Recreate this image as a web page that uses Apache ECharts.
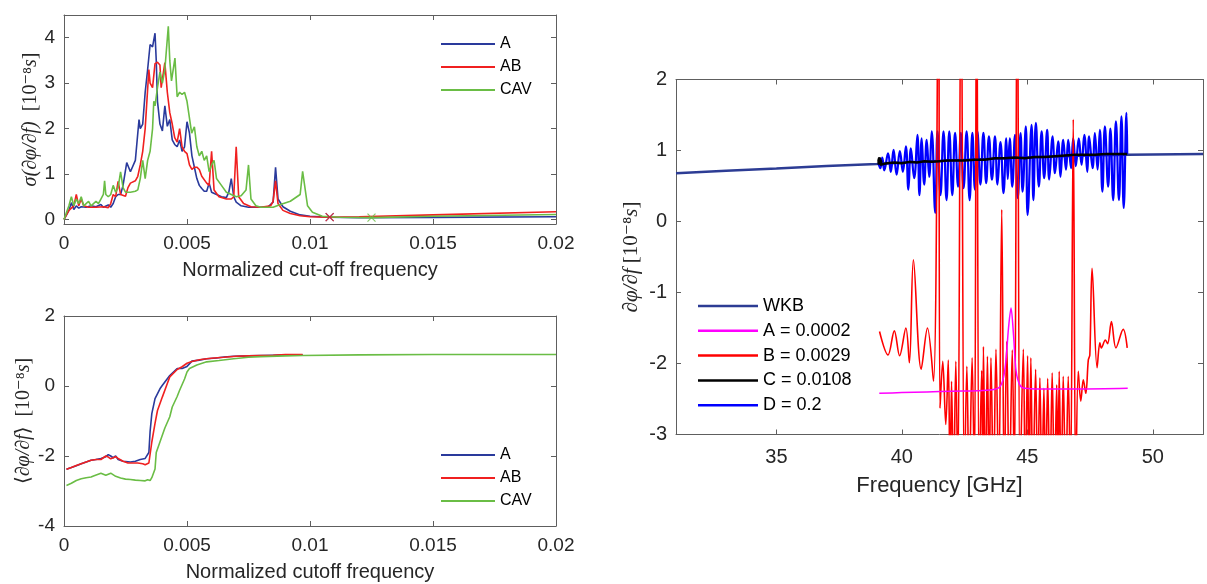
<!DOCTYPE html>
<html>
<head>
<meta charset="utf-8">
<script src="https://cdn.jsdelivr.net/npm/echarts@6/dist/echarts.min.js"></script>
<style>html,body{margin:0;padding:0;background:#fff}#c{width:1207px;height:584px}</style>
</head>
<body>
<div id="c"></div>
<script>
// ---------- tick labels ----------
const xTicksCut = [0, 0.005, 0.01, 0.015, 0.02];
const yTicksSigma = [0, 1, 2, 3, 4];
const yTicksMean = [-4, -2, 0, 2];
const xTicksFreq = [35, 40, 45, 50];
const yTicksFreq = [-3, -2, -1, 0, 1, 2];

// ---------- top-left: sigma(dphi/df) ----------
const sigA = [[0,0],[0.0002,0.2],[0.0003,0.37],[0.0004,0.22],[0.0005,0.3],[0.0006,0.25],[0.0007,0.28],[0.0009,0.27],[0.0011,0.3],[0.0013,0.28],[0.0015,0.33],[0.0016,0.27],[0.0018,0.32],[0.0019,0.27],[0.0020,0.35],[0.0021,0.5],[0.0022,0.55],[0.0023,0.55],[0.0024,0.75],[0.00255,1.25],[0.0027,1.05],[0.0029,1.3],[0.00305,2.2],[0.0031,2.0],[0.0032,2.1],[0.0033,2.8],[0.0034,3.3],[0.0035,3.85],[0.0036,3.8],[0.0037,4.1],[0.00375,3.5],[0.0038,2.6],[0.0039,2.1],[0.0040,1.95],[0.0041,2.5],[0.0042,2.05],[0.0043,2.2],[0.0044,1.75],[0.0045,1.65],[0.0046,1.6],[0.0047,1.75],[0.0048,1.5],[0.0049,1.6],[0.0050,2.15],[0.0051,1.9],[0.0052,1.4],[0.0053,1.15],[0.0054,0.9],[0.0055,0.75],[0.0056,0.68],[0.0057,0.62],[0.0058,0.62],[0.0059,0.8],[0.0060,0.6],[0.0062,0.55],[0.0064,0.5],[0.0066,0.48],[0.0067,0.6],[0.0068,0.9],[0.0069,0.5],[0.0070,0.38],[0.0072,0.3],[0.0075,0.27],[0.0080,0.27],[0.0083,0.28],[0.0085,0.38],[0.0086,1.15],[0.0087,0.45],[0.0089,0.28],[0.0092,0.18],[0.0096,0.1],[0.0100,0.07],[0.0108,0.05],[0.0120,0.04],[0.0150,0.045],[0.0200,0.06]];
const sigAB = [[0,0],[0.0002,0.2],[0.0004,0.3],[0.0005,0.55],[0.0006,0.3],[0.0007,0.45],[0.0008,0.3],[0.0010,0.27],[0.0013,0.27],[0.0016,0.28],[0.0018,0.26],[0.0019,0.35],[0.0020,0.55],[0.0021,0.5],[0.0022,0.84],[0.0023,0.55],[0.0025,0.51],[0.0026,0.7],[0.0027,0.8],[0.0029,0.85],[0.0030,0.95],[0.0031,1.2],[0.0032,1.5],[0.0033,2.0],[0.00345,3.3],[0.0035,3.0],[0.0036,2.9],[0.0037,3.43],[0.0038,3.46],[0.0039,3.4],[0.00395,2.9],[0.0041,3.45],[0.0042,2.8],[0.0043,2.35],[0.0044,2.1],[0.0045,1.8],[0.0046,1.7],[0.0047,2.0],[0.0048,1.6],[0.0049,1.5],[0.0050,1.45],[0.0051,1.2],[0.0052,1.1],[0.0053,1.15],[0.0054,1.15],[0.0055,1.1],[0.0056,0.95],[0.0058,0.8],[0.0059,0.75],[0.0060,1.5],[0.0061,0.65],[0.0063,0.5],[0.0066,0.45],[0.0068,0.45],[0.0069,0.5],[0.0070,1.6],[0.0071,0.5],[0.0073,0.35],[0.0076,0.28],[0.0080,0.27],[0.0084,0.3],[0.0085,0.4],[0.0086,0.85],[0.0087,0.35],[0.0089,0.2],[0.0092,0.13],[0.0096,0.08],[0.0100,0.06],[0.0108,0.05],[0.0120,0.06],[0.0150,0.1],[0.0200,0.17]];
const sigCAV = [[0,0],[0.0001,0.15],[0.0002,0.3],[0.0003,0.5],[0.0004,0.3],[0.0005,0.45],[0.0006,0.35],[0.0007,0.5],[0.0008,0.3],[0.0009,0.35],[0.0010,0.4],[0.0011,0.3],[0.0012,0.35],[0.0013,0.4],[0.0014,0.35],[0.0015,0.45],[0.0016,0.55],[0.00165,0.85],[0.0017,0.55],[0.0018,0.5],[0.0019,0.55],[0.0020,0.75],[0.0021,0.6],[0.0022,0.7],[0.0023,1.05],[0.0024,0.7],[0.0025,0.6],[0.0027,0.6],[0.0029,0.62],[0.0030,0.65],[0.0031,0.9],[0.0032,1.3],[0.0033,0.9],[0.0034,1.3],[0.0035,1.5],[0.0036,2.0],[0.00365,2.6],[0.0037,2.5],[0.0038,2.9],[0.0039,3.24],[0.0040,3.0],[0.0041,3.3],[0.00424,4.25],[0.0043,3.5],[0.00437,3.05],[0.00451,3.55],[0.0046,2.7],[0.0047,2.8],[0.0048,2.75],[0.0049,2.8],[0.0050,2.6],[0.00519,1.9],[0.0053,2.04],[0.0054,1.6],[0.0055,1.4],[0.0056,1.5],[0.0057,1.3],[0.0058,1.4],[0.0059,1.05],[0.0060,1.2],[0.0061,1.3],[0.0062,0.9],[0.0064,0.75],[0.0066,0.6],[0.0068,0.55],[0.0070,0.5],[0.0072,0.52],[0.0074,0.65],[0.0075,1.2],[0.0076,0.45],[0.0078,0.3],[0.0080,0.27],[0.0085,0.27],[0.0088,0.33],[0.0092,0.4],[0.0096,0.55],[0.0097,1.06],[0.0099,0.3],[0.0101,0.16],[0.0105,0.07],[0.0112,0.05],[0.0125,0.04],[0.0150,0.07],[0.0200,0.11]];
const markA = [[0.0108, 0.05]];
const markAB = [[0.0108, 0.05]];
const markCAV = [[0.0125, 0.04]];

// ---------- bottom-left: <dphi/df> ----------
const avgA = [[0.0001,-2.38],[0.0003,-2.33],[0.0005,-2.28],[0.0007,-2.22],[0.0009,-2.17],[0.0011,-2.12],[0.0013,-2.1],[0.0015,-2.07],[0.0017,-2.02],[0.0018,-1.96],[0.0019,-2.0],[0.0020,-2.05],[0.0021,-2.0],[0.0022,-2.1],[0.0024,-2.15],[0.0027,-2.17],[0.0029,-2.15],[0.0031,-2.1],[0.0033,-2.07],[0.00345,-1.9],[0.0035,-1.3],[0.00357,-0.79],[0.0037,-0.36],[0.0039,-0.08],[0.0040,0.02],[0.0042,0.21],[0.0043,0.3],[0.0046,0.5],[0.0048,0.5],[0.0050,0.56],[0.0052,0.71],[0.0055,0.74],[0.0058,0.78],[0.0062,0.8],[0.0065,0.83],[0.0069,0.85],[0.0075,0.86],[0.0080,0.87],[0.0085,0.88],[0.0090,0.89],[0.0097,0.89]];
const avgAB = [[0.0001,-2.38],[0.0003,-2.33],[0.0005,-2.27],[0.0007,-2.22],[0.0009,-2.17],[0.0011,-2.12],[0.0013,-2.1],[0.0015,-2.1],[0.0017,-2.0],[0.0018,-2.03],[0.0019,-2.08],[0.0020,-2.05],[0.0021,-2.02],[0.0022,-2.07],[0.0024,-2.15],[0.0026,-2.2],[0.0028,-2.2],[0.0030,-2.2],[0.0032,-2.22],[0.0033,-2.25],[0.00345,-2.2],[0.00357,-1.6],[0.0037,-1.07],[0.0038,-0.7],[0.0040,-0.31],[0.0042,0.07],[0.0043,0.26],[0.0046,0.47],[0.0048,0.55],[0.0050,0.65],[0.0052,0.7],[0.0055,0.75],[0.0058,0.78],[0.0061,0.8],[0.0065,0.82],[0.0070,0.85],[0.0075,0.86],[0.0080,0.87],[0.0085,0.88],[0.0090,0.9],[0.0097,0.9]];
const avgCAV = [[0.0001,-2.84],[0.0003,-2.78],[0.0005,-2.7],[0.0007,-2.65],[0.0009,-2.62],[0.0011,-2.6],[0.0012,-2.57],[0.0015,-2.49],[0.0016,-2.52],[0.0017,-2.55],[0.0019,-2.49],[0.0021,-2.58],[0.0023,-2.63],[0.0025,-2.66],[0.0027,-2.67],[0.0029,-2.69],[0.0031,-2.7],[0.0033,-2.71],[0.0034,-2.68],[0.0035,-2.7],[0.00357,-2.62],[0.0037,-2.37],[0.00375,-1.9],[0.0039,-1.6],[0.0041,-1.2],[0.0043,-0.88],[0.0044,-0.6],[0.0046,-0.3],[0.0047,-0.12],[0.0049,0.2],[0.0050,0.4],[0.0051,0.5],[0.0054,0.6],[0.0058,0.69],[0.0063,0.73],[0.0069,0.78],[0.0075,0.82],[0.0080,0.84],[0.0090,0.86],[0.0097,0.87],[0.0120,0.89],[0.0150,0.9],[0.0200,0.9]];

// ---------- right: dphi/df vs frequency ----------
const wkb = [[31,0.68],[33,0.715],[35,0.745],[37,0.78],[39,0.81],[41,0.845],[43,0.875],[45,0.9],[47,0.925],[49,0.94],[52,0.95]];
const devA = [[39.1,-2.42],[40,-2.41],[41,-2.4],[42,-2.39],[43,-2.385],[43.6,-2.37],[43.9,-2.33],[44.05,-2.2],[44.15,-1.95],[44.25,-1.5],[44.35,-1.22],[44.45,-1.6],[44.55,-2.1],[44.7,-2.3],[44.9,-2.35],[45.5,-2.36],[47,-2.36],[49,-2.35]];
const devB = [[39.11,-1.55],[39.45,-1.88],[39.7,-1.54],[39.91,-1.89],[40.16,-1.5],[40.3,-1.99],[40.46,-0.54],[40.77,-2.08],[41.02,-1.5],[41.26,-2.25],[41.46,4.0],[41.52,-2.63],[41.63,-1.97],[41.75,-2.86],[41.85,-1.95],[41.92,-3.8],[41.98,-2.25],[42.06,-3.8],[42.15,-1.97],[42.23,-3.8],[42.36,4.0],[42.49,-3.8],[42.59,-2.04],[42.68,-3.8],[42.8,-1.92],[42.89,-3.8],[42.98,4.0],[43.08,-3.8],[43.18,-2.1],[43.22,-3.8],[43.25,-1.76],[43.33,-3.8],[43.41,-1.9],[43.48,-3.8],[43.55,-1.92],[43.65,-3.8],[43.75,-1.8],[43.86,-3.8],[43.98,0.17],[44.08,-3.8],[44.18,-1.69],[44.28,-3.8],[44.4,-1.81],[44.48,-3.8],[44.6,4.0],[44.71,-3.8],[44.84,-1.8],[44.92,-3.8],[45.01,-1.89],[45.07,-3.8],[45.14,-1.92],[45.22,-3.8],[45.33,-2.08],[45.41,-3.8],[45.5,-2.2],[45.58,-3.8],[45.66,-2.35],[45.73,-3.8],[45.81,-2.21],[45.9,-3.8],[45.99,-2.13],[46.08,-3.8],[46.17,-2.3],[46.22,-3.8],[46.27,-2.11],[46.35,-3.8],[46.43,-2.18],[46.53,-3.8],[46.63,-2.18],[46.72,-3.8],[46.83,1.44],[46.93,-3.8],[47.03,-2.11],[47.13,-2.53],[47.23,-2.23],[47.33,-2.42],[47.43,-1.95],[47.49,-1.88],[47.58,-0.66],[47.78,-2.06],[47.89,-1.71],[47.95,-1.78],[48.11,-1.67],[48.2,-1.72],[48.35,-1.41],[48.53,-1.78],[48.82,-1.52],[48.98,-1.78]];
const devC = [[39.08,0.8],[39.07,0.86],[39.1,0.9],[39.15,0.89],[39.18,0.84],[39.14,0.8],[39.2,0.82],[39.4,0.82],[39.7,0.83],[40.0,0.82],[40.3,0.84],[40.6,0.83],[40.9,0.85],[41.2,0.84],[41.5,0.85],[41.8,0.86],[42.1,0.86],[42.5,0.86],[42.9,0.87],[43.3,0.87],[43.7,0.89],[44.1,0.89],[44.5,0.9],[44.9,0.89],[45.3,0.91],[45.7,0.91],[46.1,0.92],[46.5,0.93],[46.9,0.94],[47.3,0.94],[47.7,0.94],[48.1,0.95],[48.5,0.95],[48.98,0.95]];
const devD = [[39.07,0.82],[39.14,0.75],[39.22,0.9],[39.3,0.72],[39.45,0.96],[39.56,0.7],[39.67,1.01],[39.79,0.66],[39.92,0.99],[40.04,0.7],[40.16,1.06],[40.26,0.45],[40.36,1.03],[40.49,0.61],[40.62,1.22],[40.7,0.37],[40.79,1.17],[40.89,0.52],[40.99,1.15],[41.09,0.63],[41.19,1.27],[41.33,0.12],[41.42,1.27],[41.54,0.37],[41.66,1.27],[41.78,0.3],[41.89,1.27],[42.01,0.37],[42.12,1.25],[42.24,0.49],[42.35,1.25],[42.46,0.47],[42.58,1.27],[42.7,0.3],[42.81,1.25],[42.91,0.45],[43.01,1.27],[43.13,0.52],[43.25,1.25],[43.36,0.54],[43.47,1.2],[43.59,0.59],[43.71,1.2],[43.81,0.52],[43.93,1.12],[44.05,0.4],[44.16,1.17],[44.22,0.6],[44.3,1.17],[44.4,0.49],[44.51,1.22],[44.62,0.33],[44.73,1.245],[44.81,0.42],[44.94,1.34],[45.01,0.09],[45.17,1.36],[45.24,0.3],[45.34,1.39],[45.46,0.49],[45.57,1.27],[45.67,0.61],[45.79,1.29],[45.87,0.59],[46.01,1.2],[46.1,0.68],[46.23,1.13],[46.32,0.63],[46.43,1.15],[46.54,0.73],[46.63,1.15],[46.74,0.75],[46.83,1.17],[46.93,0.78],[47.05,1.17],[47.16,0.8],[47.27,1.22],[47.39,0.7],[47.46,1.2],[47.6,0.75],[47.69,1.245],[47.8,0.73],[47.89,1.29],[47.99,0.42],[48.09,1.34],[48.22,0.49],[48.31,1.31],[48.42,0.3],[48.53,1.41],[48.65,0.3],[48.75,1.48],[48.84,0.19],[48.95,1.53],[48.98,0.95]];

// ---------- styling ----------
const AXC = '#5e5e5e', TXT = '#262626';
const SANS = '"Liberation Sans", Arial, Helvetica, sans-serif';
const SERIF = '"Liberation Serif", "DejaVu Serif", serif';
const cBlue = '#2a3a9c', cRed = '#f02020', cGreen = '#6abd45';

function fmt(v){ return String(+(+v).toFixed(4)); }

function axisPair(dim, grid, min, max, ticks, o) {
  const main = {
    gridIndex: grid, type: 'value', min: min, max: max,
    position: dim === 'x' ? 'bottom' : 'left',
    axisLine: {show: true, onZero: false, lineStyle: {color: AXC, width: 1}},
    axisTick: {show: true, inside: true, length: 5, customValues: ticks, lineStyle: {color: AXC}},
    axisLabel: {show: true, customValues: ticks, formatter: fmt, fontSize: o.fs, color: TXT, fontFamily: SANS, margin: o.margin},
    splitLine: {show: false},
    name: o.name, nameLocation: 'middle', nameGap: o.gap,
    nameTextStyle: o.nts
  };
  const sec = {
    gridIndex: grid, type: 'value', min: min, max: max,
    position: dim === 'x' ? 'top' : 'right',
    axisLine: {show: true, onZero: false, lineStyle: {color: AXC, width: 1}},
    axisTick: {show: true, inside: true, length: 5, customValues: ticks, lineStyle: {color: AXC}},
    axisLabel: {show: false, customValues: ticks},
    splitLine: {show: false}
  };
  return [main, sec];
}

const richY = (fs) => ({
  fontSize: fs, color: TXT, fontFamily: SERIF,
  rich: {
    it: {fontStyle: 'italic', fontFamily: SERIF, fontSize: fs, color: TXT},
    rm: {fontFamily: SERIF, fontSize: fs, color: TXT}
  }
});

const xAxis = [].concat(
  axisPair('x', 0, 0, 0.02, xTicksCut, {fs: 19, margin: 10, name: 'Normalized cut-off frequency', gap: 36, nts: {fontSize: 20, color: TXT, fontFamily: SANS}}),
  axisPair('x', 1, 0, 0.02, xTicksCut, {fs: 19, margin: 10, name: 'Normalized cutoff frequency', gap: 36, nts: {fontSize: 20, color: TXT, fontFamily: SANS}}),
  axisPair('x', 2, 31, 52, xTicksFreq, {fs: 20, margin: 13, name: 'Frequency [GHz]', gap: 40, nts: {fontSize: 22, color: TXT, fontFamily: SANS}})
);
const yAxis = [].concat(
  axisPair('y', 0, -0.1, 4.5, yTicksSigma, {fs: 19, margin: 9, name: '{it|σ(∂φ/∂f)}  {rm|[10⁻⁸}{it|s}{rm|]}', gap: 23, nts: richY(20)}),
  axisPair('y', 1, -4, 2, yTicksMean, {fs: 19, margin: 9, name: '{rm|⟨}{it|∂φ/∂f}{rm|⟩}  {rm|[10⁻⁸}{it|s}{rm|]}', gap: 29, nts: richY(20)}),
  axisPair('y', 2, -3, 2, yTicksFreq, {fs: 20, margin: 9, name: '{it|∂φ/∂f} {rm|[10⁻⁸}{it|s}{rm|]}', gap: 34, nts: richY(21)})
);

function line(name, data, color, xi, yi, w, smooth) {
  return {type: 'line', name: name, data: data, xAxisIndex: xi, yAxisIndex: yi,
    symbol: 'none', showSymbol: false, smooth: smooth || false, clip: true,
    lineStyle: {color: color, width: w}, itemStyle: {color: color}, emphasis: {disabled: true}};
}
function cross(name, data, color) {
  return {type: 'scatter', name: name, data: data, xAxisIndex: 0, yAxisIndex: 0,
    symbol: 'path://M0,0L10,10M10,0L0,10', symbolSize: 8, z: 5,
    itemStyle: {color: 'rgba(0,0,0,0)', borderColor: color, borderWidth: 1.2}};
}

const series = [
  line('A', sigA, cBlue, 0, 0, 1.6),
  line('AB', sigAB, cRed, 0, 0, 1.6),
  line('CAV', sigCAV, cGreen, 0, 0, 1.6),
  cross('A mark', markA, cBlue),
  cross('AB mark', markAB, cRed),
  cross('CAV mark', markCAV, cGreen),
  line('A', avgA, cBlue, 2, 2, 1.6),
  line('AB', avgAB, cRed, 2, 2, 1.6),
  line('CAV', avgCAV, cGreen, 2, 2, 1.6),
  line('WKB', wkb, '#2c3c94', 4, 4, 2.5),
  line('D = 0.2', devD, '#0000ff', 4, 4, 2.2, 0.45),
  line('B = 0.0029', devB, '#ff0000', 4, 4, 1.6, 0.35),
  line('A = 0.0002', devA, '#ff00ff', 4, 4, 1.5, 0.3),
  line('C = 0.0108', devC, '#000000', 4, 4, 2.5)
];

const legLeft = (top) => ({
  data: ['A', 'AB', 'CAV'], orient: 'vertical', left: 441, top: top, padding: 0,
  icon: 'rect', itemWidth: 54, itemHeight: 2, itemGap: 7, selectedMode: false,
  textStyle: {fontSize: 16, color: '#000', fontFamily: SANS, padding: [0, 0, 0, 0]}
});

const option = {
  animation: false,
  backgroundColor: '#fff',
  grid: [
    {left: 64, top: 15, width: 492, height: 209},
    {left: 64, top: 316, width: 492, height: 210},
    {left: 676, top: 79.5, width: 527, height: 355}
  ],
  xAxis: xAxis,
  yAxis: yAxis,
  legend: [
    legLeft(36),
    legLeft(447),
    {data: ['WKB', 'A = 0.0002', 'B = 0.0029', 'C = 0.0108', 'D = 0.2'], orient: 'vertical', left: 698, top: 297, padding: 0,
     icon: 'rect', itemWidth: 60, itemHeight: 2.5, itemGap: 6.8, selectedMode: false,
     textStyle: {fontSize: 18, color: '#000', fontFamily: SANS}}
  ],
  series: series
};

const chart = echarts.init(document.getElementById('c'), null, {renderer: 'canvas'});
chart.setOption(option);
</script>
</body>
</html>
